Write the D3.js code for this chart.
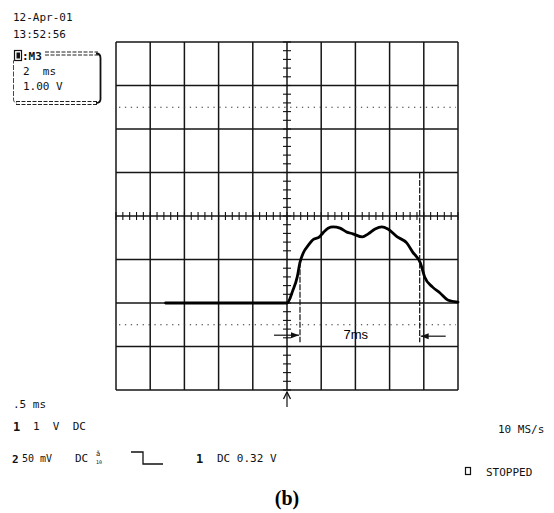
<!DOCTYPE html>
<html>
<head>
<meta charset="utf-8">
<script src="https://cdn.jsdelivr.net/npm/d3@7"></script>
<style>
  html, body { margin: 0; padding: 0; background: #fff; }
  svg { display: block; }
  .mono { font-family: "DejaVu Sans Mono", "Liberation Mono", monospace; font-size: 11px; fill: #111; white-space: pre; }
  .bold { font-weight: bold; }
</style>
</head>
<body>
<svg id="chart" width="554" height="513"></svg>
<script>
// Oscilloscope capture: channel trace (time in ms, amplitude in V from screen centre)
const timeMs = [2.9, 10.0, 10.35, 10.6, 10.75, 10.95, 11.25, 11.5, 11.9, 12.1, 12.4, 12.7,
                13.1, 13.5, 13.85, 14.4, 14.75, 15.15, 15.55, 15.9, 16.45, 17.0, 17.35,
                17.8, 18.05, 18.5, 18.95, 19.4, 20.0];
const volts  = [-2.0, -2.0, -1.7, -1.4, -1.08, -0.85, -0.67, -0.55, -0.48, -0.39, -0.28, -0.25,
                -0.28, -0.37, -0.41, -0.48, -0.41, -0.30, -0.25, -0.30, -0.48, -0.62, -0.83,
                -1.08, -1.4, -1.63, -1.77, -1.93, -1.98];

// Screen graticule: 10 x 2 ms horizontally, 8 x 1 V vertically
const timeDomain = [0, 20];
const voltDomain = [-4, 4];
const msPerDiv = 2;
const voltPerDiv = 1;
const dottedLevels = [2.5, -2.5];

// Measurement cursors and trigger point
const cursorTimes = [10.76, 17.76];
const cursorLabel = "7ms";
const triggerTime = 10;

// On-screen readouts
const headerLines = ["12-Apr-01", "13:52:56"];
const boxLines = ["2  ms", "1.00 V"];
const footer = {
  timebase: ".5 ms",
  ch1: "1  V  DC",
  ch2a: "50 mV",
  ch2b: "DC",
  trigger: "DC 0.32 V",
  rate: "10 MS/s",
  state: "STOPPED",
  caption: "(b)"
};

const svg = d3.select("#chart");
const x = d3.scaleLinear().domain(timeDomain).range([116, 458]);
const y = d3.scaleLinear().domain(voltDomain).range([390, 42]);

// --- graticule ---
const grid = svg.append("g").attr("stroke", "#161616").attr("stroke-width", 1.5);
d3.range(timeDomain[0], timeDomain[1] + 0.001, msPerDiv).forEach(t => {
  grid.append("line").attr("x1", x(t)).attr("x2", x(t)).attr("y1", y(4)).attr("y2", y(-4));
});
d3.range(voltDomain[0], voltDomain[1] + 0.001, voltPerDiv).forEach(v => {
  grid.append("line").attr("x1", x(0)).attr("x2", x(20)).attr("y1", y(v)).attr("y2", y(v));
});

// dotted reference levels
svg.append("g").selectAll("line").data(dottedLevels).join("line")
  .attr("x1", x(0) + 3).attr("x2", x(20) - 2)
  .attr("y1", d => y(d)).attr("y2", d => y(d))
  .attr("stroke", "#333").attr("stroke-width", 1.2)
  .attr("stroke-dasharray", "1.3,4.6");

// minor ticks along the centre axes
const ticks = svg.append("g").attr("stroke", "#111").attr("stroke-width", 1.1);
d3.range(0, 20.001, msPerDiv / 5).forEach(t => {
  ticks.append("line").attr("x1", x(t)).attr("x2", x(t)).attr("y1", y(0) - 4).attr("y2", y(0) + 4);
});
d3.range(-4, 4.001, voltPerDiv / 5).forEach(v => {
  ticks.append("line").attr("x1", x(10) - 4).attr("x2", x(10) + 4).attr("y1", y(v)).attr("y2", y(v));
});

// --- trace ---
const pts = timeMs.map((t, i) => [t, volts[i]]);
const line = d3.line().x(d => x(d[0])).y(d => y(d[1])).curve(d3.curveMonotoneX);
svg.append("path").datum(pts).attr("d", line)
  .attr("fill", "none").attr("stroke", "#000").attr("stroke-width", 2.8)
  .attr("stroke-linejoin", "round").attr("stroke-linecap", "round");

// --- cursor annotation ---
const cursorBottom = -2.9;
const cursorTops = [-1.05, 1.0];
const ann = svg.append("g").attr("stroke", "#111").attr("stroke-width", 1.2);
cursorTimes.forEach((t, i) => {
  ann.append("line").attr("x1", x(t)).attr("x2", x(t))
    .attr("y1", y(cursorTops[i])).attr("y2", y(cursorBottom))
    .attr("stroke-dasharray", "6,1.5");
});
const arrowV = -2.74;
function arrow(xFrom, xTo, yy) {
  ann.append("line").attr("x1", xFrom).attr("x2", xTo).attr("y1", yy).attr("y2", yy);
  const dir = Math.sign(xTo - xFrom);
  ann.append("path")
    .attr("d", `M${xTo},${yy} L${xTo - dir * 8},${yy - 3} L${xTo - dir * 8},${yy + 3} Z`)
    .attr("fill", "#111").attr("stroke", "none");
}
arrow(x(cursorTimes[0]) - 26, x(cursorTimes[0]) - 1, y(arrowV));
arrow(x(cursorTimes[1]) + 26, x(cursorTimes[1]) + 1, y(arrowV) + 1);
svg.append("text").attr("x", x((cursorTimes[0] + cursorTimes[1]) / 2) - 4).attr("y", y(arrowV) + 4)
  .attr("text-anchor", "middle")
  .style("font-family", "Liberation Sans, Arial, sans-serif").style("font-size", "13px")
  .style("fill", "#000").text(cursorLabel);

// trigger position marker below the screen
const tx = x(triggerTime);
svg.append("line").attr("x1", tx).attr("x2", tx).attr("y1", y(-4) + 2).attr("y2", y(-4) + 17)
  .attr("stroke", "#111").attr("stroke-width", 1.2);
svg.append("path").attr("d", `M${tx - 3.5},${y(-4) + 9} L${tx},${y(-4) + 2} L${tx + 3.5},${y(-4) + 9}`)
  .attr("fill", "none").attr("stroke", "#111").attr("stroke-width", 1.3);

// --- readouts ---
svg.selectAll("text.hdr").data(headerLines).join("text").attr("class", "mono hdr")
  .attr("x", 13).attr("y", (d, i) => 21 + i * 16.5).text(d => d);

// math channel box
const box = svg.append("g");
box.append("rect").attr("x", 14.5).attr("y", 50.5).attr("width", 7).attr("height", 10)
  .attr("fill", "#fff").attr("stroke", "#111").attr("stroke-width", 1.2);
box.append("rect").attr("x", 16.5).attr("y", 52.5).attr("width", 3.5).attr("height", 6).attr("fill", "#111");
box.append("text").attr("class", "mono bold").attr("x", 22).attr("y", 60).text(":M3");
[52, 55, 101.5, 104.5].forEach((yy, i) => {
  box.append("line").attr("x1", i < 2 ? 45 : 16).attr("x2", 98).attr("y1", yy).attr("y2", yy)
    .attr("stroke", "#222").attr("stroke-width", 1).attr("stroke-dasharray", "4,1.5");
});
box.append("path").attr("d", "M96,53.5 Q100.5,53.5 100.5,58 L100.5,99 Q100.5,103 96,103")
  .attr("fill", "none").attr("stroke", "#111").attr("stroke-width", 1.8);
box.append("path").attr("d", "M15,59 L13.5,61 L13.5,99 Q13.5,103 17,103")
  .attr("fill", "none").attr("stroke", "#333").attr("stroke-width", 0.9).attr("stroke-dasharray", "5,1.5");
box.selectAll("text.bx").data(boxLines).join("text").attr("class", "mono bx")
  .attr("x", 23).attr("y", (d, i) => 75 + i * 14.5).text(d => d);

// footer
svg.append("text").attr("class", "mono").attr("x", 13).attr("y", 408).text(footer.timebase);
svg.append("text").attr("class", "mono bold").attr("x", 13).attr("y", 431).style("font-size", "12px").text("1");
svg.append("text").attr("class", "mono").attr("x", 33).attr("y", 430).text(footer.ch1);
svg.append("text").attr("class", "mono bold").attr("x", 12).attr("y", 463).style("font-size", "11px").text("2");
svg.append("text").attr("class", "mono").attr("x", 22).attr("y", 462).style("font-size", "10px").text(footer.ch2a);
svg.append("text").attr("class", "mono").attr("x", 75).attr("y", 462).text(footer.ch2b);
// probe attenuation glyph: "ǎ" with a small "10" underneath
svg.append("text").attr("class", "mono").attr("x", 96).attr("y", 456).style("font-size", "7px").text("ǎ");
svg.append("text").attr("class", "mono").attr("x", 96).attr("y", 463.5).style("font-size", "5px").text("10");
// trigger slope symbol
svg.append("path").attr("d", "M131,452 L143,452 L143,464 L163,464")
  .attr("fill", "none").attr("stroke", "#111").attr("stroke-width", 1.3);
svg.append("text").attr("class", "mono bold").attr("x", 196).attr("y", 463).style("font-size", "12px").text("1");
svg.append("text").attr("class", "mono").attr("x", 217).attr("y", 462).text(footer.trigger);
svg.append("text").attr("class", "mono").attr("x", 498).attr("y", 433).text(footer.rate);
svg.append("rect").attr("x", 465.5).attr("y", 467.5).attr("width", 5).attr("height", 7)
  .attr("fill", "none").attr("stroke", "#111").attr("stroke-width", 1.2);
svg.append("text").attr("class", "mono").attr("x", 486).attr("y", 476).text(footer.state);

svg.append("text").attr("x", 287).attr("y", 505).attr("text-anchor", "middle")
  .style("font-family", "Liberation Serif, Times New Roman, serif").style("font-size", "20px")
  .style("font-weight", "bold").attr("fill", "#000").text(footer.caption);
</script>
</body>
</html>
